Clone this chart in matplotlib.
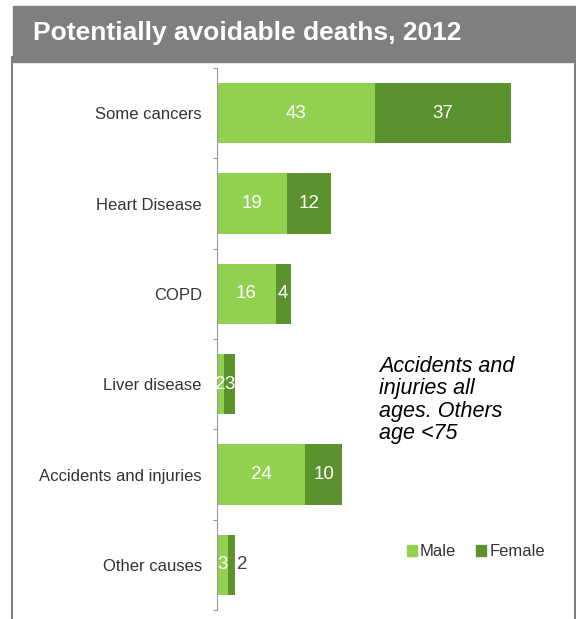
import numpy as np
import matplotlib.pyplot as plt
from matplotlib.patches import Rectangle
from matplotlib.lines import Line2D

plt.rcParams['font.family'] = ['Liberation Sans', 'DejaVu Sans']

# Дані
categories = ['Some cancers', 'Heart Disease', 'COPD', 'Liver disease',
              'Accidents and injuries', 'Other causes']
male = [43, 19, 16, 2, 24, 3]
female = [37, 12, 4, 3, 10, 2]

male_color = '#92d050'
female_color = '#5c922e'
grey = '#7f7f7f'

W, H = 576, 619
fig = plt.figure(figsize=(W / 100, H / 100), dpi=100)

# Сіра смуга заголовка та рамка
fig.patches.append(Rectangle((13 / W, 1 - 62 / H), 1 - 13 / W, 56 / H,
                             transform=fig.transFigure, color=grey, zorder=0))
fig.add_artist(Line2D([12 / W, 12 / W], [0, 1 - 57 / H], color=grey, lw=1.5))
fig.add_artist(Line2D([574.5 / W, 574.5 / W], [0, 1 - 57 / H], color=grey, lw=1.5))
fig.text(33 / W, 1 - 33 / H, 'Potentially avoidable deaths, 2012', color='white',
         fontsize=19, fontweight='bold', va='center', ha='left')

ax = fig.add_axes([217 / W, 1 - 610 / H, (560 - 217) / W, (610 - 68) / H])
y = np.arange(len(categories))
ax.barh(y, male, height=2 / 3, color=male_color)
ax.barh(y, female, left=male, height=2 / 3, color=female_color)
ax.set_xlim(0, (560 - 217) / 3.675)
ax.set_ylim(len(categories) - 0.5, -0.5)

for i, (m, f) in enumerate(zip(male, female)):
    ax.text(m / 2, i, str(m), color='white', fontsize=13.5, ha='center', va='center')
    if categories[i] == 'Other causes':
        ax.text(m + f + 0.5, i, str(f), color='#404040', fontsize=13.5,
                ha='left', va='center')
    else:
        ax.text(m + f / 2, i, str(f), color='white', fontsize=13.5,
                ha='center', va='center')

ax.set_yticks(y)
ax.set_yticklabels(categories, fontsize=12, color='#333333')
ax.tick_params(axis='y', length=0, pad=11)
ax.set_yticks(np.arange(len(categories) + 1) - 0.5, minor=True)
ax.tick_params(axis='y', which='minor', length=3, color='#999999', width=0.8)
ax.set_xticks([])
for s in ['top', 'right', 'bottom']:
    ax.spines[s].set_visible(False)
ax.spines['left'].set_color('#999999')
ax.spines['left'].set_linewidth(0.8)

fig.text(379 / W, 1 - 400 / H, 'Accidents and\ninjuries all\nages. Others\nage <75',
         fontsize=15.5, style='italic', color='black', va='center', ha='left',
         linespacing=1.1)

ax.legend(handles=[Rectangle((0, 0), 1, 1, color=male_color),
                   Rectangle((0, 0), 1, 1, color=female_color)],
          labels=['Male', 'Female'], ncol=2, frameon=False, fontsize=12,
          loc='center', bbox_to_anchor=(476 / W, 1 - 552 / H),
          bbox_transform=fig.transFigure, handlelength=0.6, handleheight=0.6,
          handletextpad=0.2, columnspacing=1.2, labelcolor='#333333')

fig.savefig('out.png', dpi=100)
